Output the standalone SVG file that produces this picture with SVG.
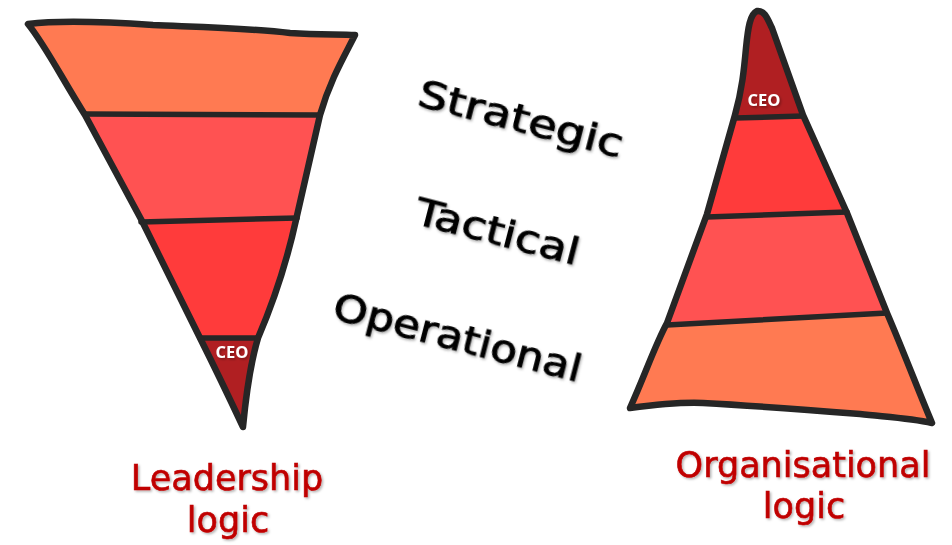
<svg xmlns="http://www.w3.org/2000/svg" width="952" height="545" viewBox="0 0 952 545">
<style>
.outline{fill:none;stroke:#262626;stroke-width:6.5;stroke-linejoin:round;stroke-linecap:round}
.div{fill:none;stroke:#262626;stroke-width:5.5;stroke-linecap:round}
.b1{fill:#FF7A52}.b2{fill:#FF5252}.b3{fill:#FF3B3B}.b4{fill:#B01F22}
.ceo{font-family:"Open Sans","Noto Sans",sans-serif;font-weight:bold;font-size:16.5px;fill:#fff;text-anchor:middle}
.hand{font-family:"DejaVu Sans",sans-serif;font-size:38px;fill:#000;stroke:#000;stroke-width:0.9}
.lbl{font-family:"DejaVu Sans",sans-serif;font-size:35px;fill:#C00000;stroke:#C00000;stroke-width:0.6;text-anchor:middle}
</style>
<defs>
<filter id="sh" x="-10%" y="-20%" width="130%" height="150%">
<feDropShadow dx="1.5" dy="1.5" stdDeviation="1" flood-color="#000" flood-opacity="0.3"/>
</filter>
<clipPath id="cl">
<path d="M28,24 C60,20 110,22 153,25 C200,27 250,28 290,33 C320,35 340,34 355,35 C345,55 330,80 320,115 L296,220 C285,270 270,310 258,338 C250,365 246,395 243,427 C228,395 214,366 200,338 L142,221 L85,115 C60,75 45,45 28,24 Z"/>
</clipPath>
<clipPath id="cr">
<path d="M757,11 C765,10 768,20 772,28 L803,115 L847,213 L887,313 C905,355 918,390 932,423 C910,418 887,417 860,414 C810,410 760,406 703,403 C680,402 660,404 630,408 C645,375 655,345 667,323 L707,214 L735,115 C742,90 744,70 746,48 C748,28 750,14 757,11 Z"/>
</clipPath>
</defs>
<g id="leadership-pyramid">
<g clip-path="url(#cl)">
<rect class="b1" x="0" y="0" width="400" height="116"/>
<rect class="b2" x="0" y="116" width="400" height="104"/>
<rect class="b3" x="0" y="220" width="400" height="118"/>
<rect class="b4" x="0" y="338" width="400" height="100"/>
</g>
<line class="div" x1="85" y1="114" x2="320" y2="115"/>
<line class="div" x1="141" y1="222" x2="297" y2="218"/>
<line class="div" x1="200" y1="338" x2="258" y2="338"/>
<path class="outline" d="M28,24 C60,20 110,22 153,25 C200,27 250,28 290,33 C320,35 340,34 355,35 C345,55 330,80 320,115 L296,220 C285,270 270,310 258,338 C250,365 246,395 243,427 C228,395 214,366 200,338 L142,221 L85,115 C60,75 45,45 28,24 Z"/>
<text class="ceo" x="232" y="358" filter="url(#sh)">CEO</text>
</g>
<g id="organisational-pyramid">
<g clip-path="url(#cr)">
<polygon class="b4" points="700,0 850,0 850,117 700,117"/>
<polygon class="b3" points="690,117 850,116 860,212 690,217"/>
<polygon class="b2" points="640,217 870,212 900,313 640,325"/>
<polygon class="b1" points="600,325 900,313 960,313 960,440 600,440"/>
</g>
<line class="div" x1="735" y1="118" x2="803" y2="116"/>
<line class="div" x1="707" y1="217" x2="847" y2="212"/>
<line class="div" x1="667" y1="325" x2="887" y2="313"/>
<path class="outline" d="M757,11 C765,10 768,20 772,28 L803,115 L847,213 L887,313 C905,355 918,390 932,423 C910,418 887,417 860,414 C810,410 760,406 703,403 C680,402 660,404 630,408 C645,375 655,345 667,323 L707,214 L735,115 C742,90 744,70 746,48 C748,28 750,14 757,11 Z"/>
<text class="ceo" x="764" y="106" filter="url(#sh)">CEO</text>
</g>
<g id="levels">
<text class="hand" x="416" y="105" transform="rotate(14.5 416 105)" textLength="210" lengthAdjust="spacingAndGlyphs" filter="url(#sh)">Strategic</text>
<text class="hand" x="413" y="223" transform="rotate(14.5 413 223)" textLength="168" lengthAdjust="spacingAndGlyphs" filter="url(#sh)">Tactical</text>
<text class="hand" x="331" y="318" transform="rotate(14.5 331 318)" textLength="255" lengthAdjust="spacingAndGlyphs" filter="url(#sh)">Operational</text>
</g>
<g id="labels">
<text class="lbl" x="227" y="490" filter="url(#sh)">Leadership</text>
<text class="lbl" x="228" y="532" filter="url(#sh)">logic</text>
<text class="lbl" x="803" y="477" filter="url(#sh)">Organisational</text>
<text class="lbl" x="804" y="518" filter="url(#sh)">logic</text>
</g>
</svg>
